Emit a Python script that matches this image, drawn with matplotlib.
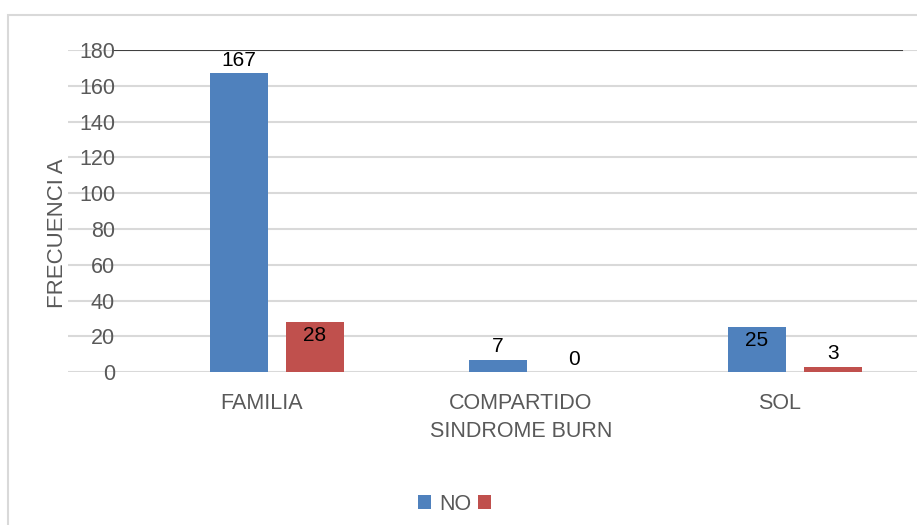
import matplotlib.pyplot as plt
from matplotlib.patches import Rectangle
import numpy as np

plt.rcParams['font.family'] = ['Liberation Sans', 'DejaVu Sans']

categories = ["FAMILIA", "COMPARTIDO\nSINDROME BURN", "SOL"]
no_values = [167, 7, 25]
other_values = [28, 0, 3]
y_ticks = [0, 20, 40, 60, 80, 100, 120, 140, 160, 180]

BLUE = "#4f81bd"
RED = "#c0504d"
GRID = "#d9d9d9"
TEXT = "#595959"


def main():
    fig = plt.figure(figsize=(9.17, 5.25), dpi=100)
    ax = fig.add_axes([0.074, 0.291, 0.926, 0.614])

    # light chart-area border
    fig.patches.append(Rectangle((0.009, -0.1), 1.2, 1.071, transform=fig.transFigure,
                                 fill=False, edgecolor=GRID, linewidth=1.5))

    x = np.arange(len(categories))
    w = 0.224
    b1 = ax.bar(x - 0.09, no_values, w, color=BLUE, zorder=3, label="NO")
    b2 = ax.bar(x + 0.205, other_values, w, color=RED, zorder=3, label=" ")

    for bars, vals in [(b1, no_values), (b2, other_values)]:
        for bar, v in zip(bars, vals):
            cx = bar.get_x() + bar.get_width() / 2
            if 20 <= v < 100:
                ax.text(cx, v - 2, str(v), ha="center", va="top", fontsize=15, color="black", zorder=4)
            else:
                ax.text(cx, v + 2, str(v), ha="center", va="bottom", fontsize=15, color="black", zorder=4)

    ax.set_xlim(-0.749, 2.529)
    ax.set_ylim(0, 180)
    ax.set_yticks(y_ticks)
    ax.set_xticks(x)
    ax.set_xticklabels(categories, fontsize=15.5, color=TEXT, linespacing=1.45)
    ax.tick_params(axis="y", labelsize=15.5, labelcolor=TEXT, length=0, pad=-34)
    ax.tick_params(axis="x", length=0, pad=15)
    ax.grid(axis="y", color=GRID, linewidth=1.5, zorder=0)
    ax.axhline(180, xmin=0.055, xmax=0.982, color="#404040", linewidth=1.5, zorder=2)
    for s in ax.spines.values():
        s.set_visible(False)
    ax.set_ylabel("FRECUENCI A", fontsize=16, color=TEXT)
    ax.yaxis.set_label_coords(0.0, 0.43)

    fig.legend(handles=[b1, b2], labels=["NO", ""], loc="center", bbox_to_anchor=(0.5, 0.04),
               ncol=2, frameon=False, fontsize=15.5, handlelength=0.6, handleheight=0.6,
               columnspacing=0.3, handletextpad=0.4, labelcolor=TEXT)

    fig.savefig("out.png", dpi=100)


if __name__ == "__main__":
    main()
